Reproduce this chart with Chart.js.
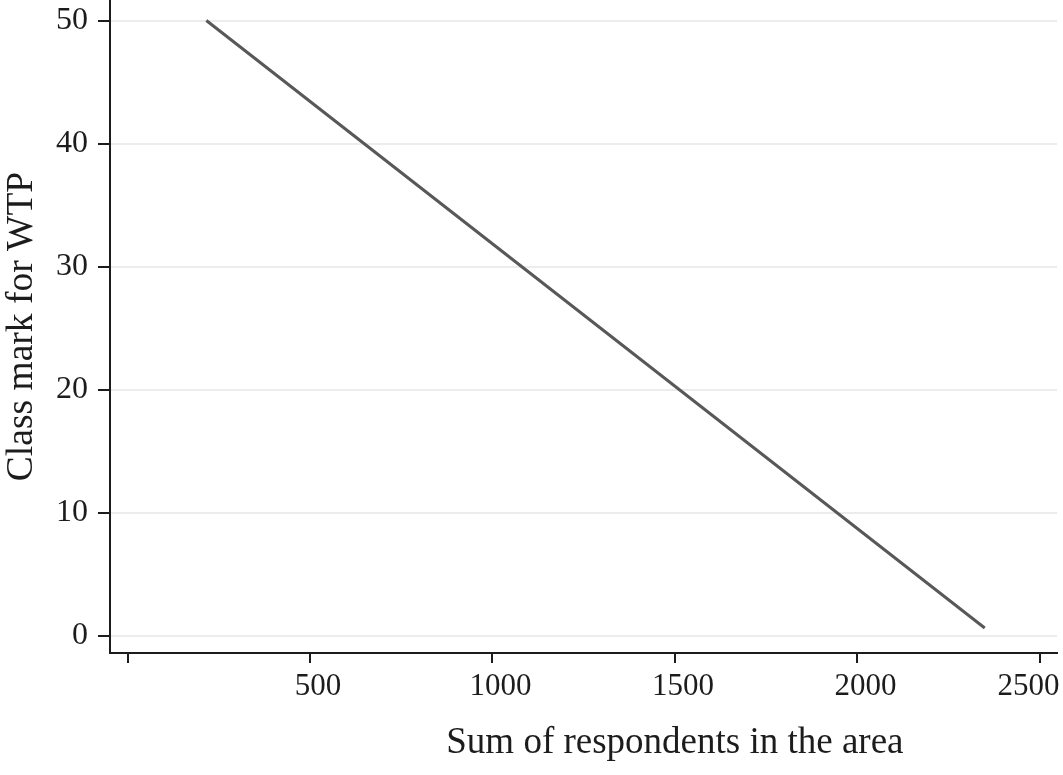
<!DOCTYPE html>
<html lang="en">
<head>
<meta charset="UTF-8">
<title>Class mark for WTP</title>
<script src="https://cdn.jsdelivr.net/npm/chart.js"></script>
<style>
  body { margin: 0; background: #fff; }
  canvas { display: block; }
</style>
</head>
<body>
<canvas id="chart" width="1063" height="775"></canvas>
<script>
// values
const respondents = [216, 2349];
const classMark = [50, 0.65];
const xTicks = [0, 500, 1000, 1500, 2000, 2500];
const yTicks = [0, 10, 20, 30, 40, 50];
const xTitle = 'Sum of respondents in the area';
const yTitle = 'Class mark for WTP';

const serif = '"Liberation Serif", "Times New Roman", serif';
const ink = '#1c1c1c';

// the x title in the figure is not centred on the axis; it sits under the 1500 tick
const xTitlePlugin = {
  id: 'xTitle',
  afterDraw(chart) {
    const ctx = chart.ctx;
    const xs = chart.scales.x;
    ctx.save();
    ctx.font = '37px ' + serif;
    ctx.fillStyle = ink;
    ctx.textAlign = 'center';
    ctx.textBaseline = 'alphabetic';
    ctx.fillText(xTitle, xs.getPixelForValue(1500), 753);
    ctx.restore();
  }
};

new Chart(document.getElementById('chart'), {
  type: 'scatter',
  data: {
    datasets: [{
      data: respondents.map((x, i) => ({ x: x, y: classMark[i] })),
      showLine: true,
      borderColor: '#585858',
      borderWidth: 3,
      pointRadius: 0
    }]
  },
  plugins: [xTitlePlugin],
  options: {
    responsive: false,
    devicePixelRatio: 1,
    animation: false,
    layout: { padding: { left: 0, right: 6, top: 0, bottom: 0 } },
    plugins: { legend: { display: false }, tooltip: { enabled: false } },
    scales: {
      x: {
        min: -48,
        max: 2547,
        afterBuildTicks: s => { s.ticks = xTicks.map(v => ({ value: v })); },
        afterFit: s => { s.height = 122; s.paddingLeft = 0; s.paddingRight = 0; },
        ticks: {
          // first tick unlabeled; the last label is pulled left so it stays on the page
          callback: v => v === 0 ? '' : (v === xTicks[xTicks.length - 1] ? v + '\u2007\u2007 ' : String(v)),
          font: { family: serif, size: 31 },
          color: ink,
          padding: 5,
          labelOffset: 8,
          maxRotation: 0,
          autoSkip: false
        },
        grid: { drawOnChartArea: false, tickLength: 10, tickColor: ink, lineWidth: 2 },
        border: { color: ink, width: 2 },
        title: { display: false }
      },
      y: {
        min: -1.38,
        max: 51.67,
        afterBuildTicks: s => { s.ticks = yTicks.map(v => ({ value: v })); },
        afterFit: s => { s.width = 110; s.paddingTop = 0; s.paddingBottom = 0; },
        ticks: {
          callback: v => String(v),
          font: { family: serif, size: 32 },
          color: ink,
          padding: 10,
          autoSkip: false
        },
        grid: { color: '#ececec', tickLength: 12, tickColor: ink, lineWidth: 2 },
        border: { color: ink, width: 2 },
        title: {
          display: true,
          text: yTitle,
          font: { family: serif, size: 37.5 },
          color: ink,
          padding: { top: 0, bottom: 0 }
        }
      }
    }
  }
});
</script>
</body>
</html>
